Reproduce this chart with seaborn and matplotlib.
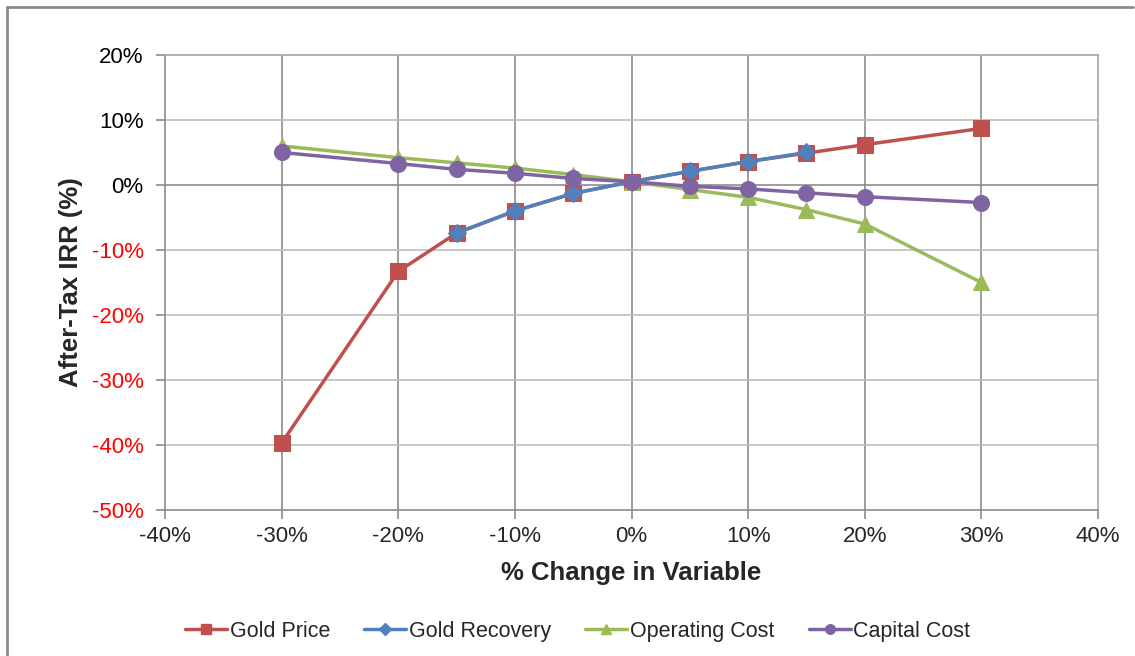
import matplotlib
matplotlib.use("Agg")
import matplotlib.pyplot as plt
import matplotlib.lines as mlines
import seaborn as sns
import pandas as pd

# Data (values in %)
x_full = [-30, -20, -15, -10, -5, 0, 5, 10, 15, 20, 30]
x_rec = [-15, -10, -5, 0, 5, 10, 15]
gold_price = [-39.7, -13.3, -7.4, -4.0, -1.3, 0.5, 2.1, 3.6, 4.9, 6.2, 8.7]
gold_recovery = [-7.4, -4.0, -1.3, 0.5, 2.1, 3.6, 5.0]
operating_cost = [6.0, 4.2, 3.4, 2.6, 1.6, 0.5, -0.7, -1.9, -3.8, -6.0, -15.0]
capital_cost = [5.0, 3.3, 2.4, 1.8, 1.0, 0.5, -0.2, -0.6, -1.2, -1.8, -2.7]

series_names = ["Gold Price", "Gold Recovery", "Operating Cost", "Capital Cost"]
colors = ["#C0504D", "#4F81BD", "#9BBB59", "#8064A2"]
markers = ["s", "D", "^", "o"]
msizes = [11.5, 9.5, 12, 11.5]

sns.set_style("white")
plt.rcParams["font.family"] = ["Liberation Sans", "DejaVu Sans"]

fig = plt.figure(figsize=(11.35, 6.56), dpi=100)
ax = fig.add_axes([0.1454, 0.2226, 0.8220, 0.6936])

data = [(x_full, gold_price), (x_rec, gold_recovery), (x_full, operating_cost), (x_full, capital_cost)]
handles = []
for (xs, ys), name, c, m, ms in zip(data, series_names, colors, markers, msizes):
    df = pd.DataFrame({"x": xs, "y": ys})
    sns.lineplot(data=df, x="x", y="y", ax=ax, color=c, marker=m, markersize=ms,
                 markeredgecolor=c, linewidth=2.5, legend=False, zorder=3)
    handles.append(mlines.Line2D([], [], color=c, marker=m, markersize=ms * 0.6,
                                 markeredgecolor=c, linewidth=2.5, label=name))

ax.set_xlim(-40, 40)
ax.set_ylim(-50, 20)
xt = list(range(-40, 41, 10))
yt = list(range(-50, 21, 10))
ax.set_xticks(xt)
ax.set_yticks(yt)
ax.set_xticklabels([f"{v}%" for v in xt], fontsize=16)
ax.set_yticklabels([f"{v}%" for v in yt], fontsize=16)
for lab, v in zip(ax.get_yticklabels(), yt):
    lab.set_color("#FF0000" if v < 0 else "black")

# Grid
for v in xt[1:-1]:
    ax.axvline(v, color="#8C8C8C", linewidth=1.2, zorder=1)
for v in yt[1:-1]:
    ax.axhline(v, color="#8C8C8C" if v == 0 else "#BEBEBE", linewidth=1.2, zorder=1)

for side in ["left", "bottom"]:
    ax.spines[side].set_color("#8C8C8C")
    ax.spines[side].set_linewidth(1.2)
for side in ["top", "right"]:
    ax.spines[side].set_color("#A6A6A6")
    ax.spines[side].set_linewidth(1.2)
ax.tick_params(axis="both", direction="out", length=6.5, width=1.2, color="#8C8C8C")
ax.tick_params(axis="x", bottom=True, pad=5)
ax.tick_params(axis="y", left=True, pad=9)

ax.set_xlabel("% Change in Variable", fontsize=18.5, fontweight="bold", labelpad=10)
ax.set_ylabel("After-Tax IRR (%)", fontsize=18.5, fontweight="bold", labelpad=6)

fig.legend(handles=handles, loc="center", bbox_to_anchor=(0.509, 0.038), ncol=4,
           frameon=False, fontsize=15.5, handlelength=1.95, columnspacing=1.6,
           handletextpad=0.12)

# Figure border (top and left)
fig.add_artist(mlines.Line2D([0.006, 0.998], [0.989, 0.989], transform=fig.transFigure,
                             color="#8C8C8C", linewidth=2))
fig.add_artist(mlines.Line2D([0.0066, 0.0066], [0.0, 0.989], transform=fig.transFigure,
                             color="#8C8C8C", linewidth=2))

fig.savefig("out.png", dpi=100)
